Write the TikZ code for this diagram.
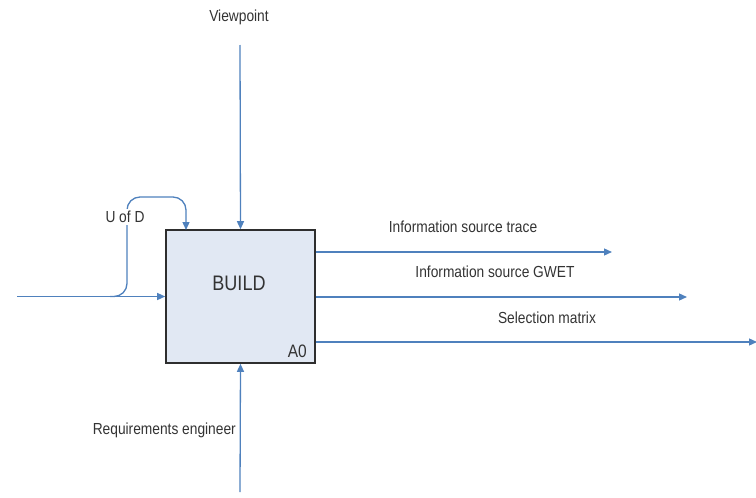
\documentclass[tikz,border=0pt]{standalone}
\usepackage{fontspec}
\setmainfont[FakeStretch=0.86]{Liberation Sans}
\usetikzlibrary{arrows.meta}
\definecolor{flowblue}{HTML}{4F81BD}
\definecolor{boxfill}{HTML}{E1E8F3}
\definecolor{inkgray}{HTML}{333333}
\tikzset{
  flow/.style={draw=flowblue, line width=1.3pt, -{Triangle[length=8pt,width=7pt]}},
  lbl/.style={text=inkgray, inner sep=1pt, font=\fontsize{16}{18}\selectfont},
  activity/.style={draw=inkgray!90!black, line width=1.6pt, fill=boxfill,
    minimum width=149pt, minimum height=133pt, inner sep=0pt}
}
\begin{document}
\begin{tikzpicture}[x=1pt,y=-1pt]
\useasboundingbox (0,0) rectangle (756,498);

% activity box
\node[activity] (build) at (240.5,296.5) {};
\node[text=inkgray, font=\fontsize{21}{23}\selectfont] (title) at (239,283) {BUILD};
\node[text=inkgray, font=\fontsize{18}{20}\selectfont, anchor=south east, inner sep=0pt] (num) at (307,358) {A0};

% control from above
\node[lbl] (vp) at (239,17) {Viewpoint};
\coordinate (vptop) at (240,45);
\draw[flow] (vptop) -- (build.north);

% mechanism from below
\node[lbl, anchor=east] (re) at (237,430) {Requirements engineer};
\coordinate (rebot) at (240,492);
\draw[flow] (rebot) -- (build.south);

% input from the left
\coordinate (inl) at (17,296.5);
\draw[flow] (inl) -- (build.west);

% branch U of D into the top of the box
\coordinate (brk) at (110,296.5);
\coordinate (ud) at (186,230);
\draw[flow, rounded corners=13pt] (brk) -- (127,296.5) -- (127,197) -- (186,197) -- (ud);
\node[lbl, fill=white, inner sep=2pt] (udl) at (125,217) {U of D};

% outputs
\coordinate (o1) at (612,252);
\coordinate (o2) at (687,297);
\coordinate (o3) at (757,342);
\draw[flow] (build.east |- o1) -- (o1);
\draw[flow] (build.east |- o2) -- (o2);
\draw[flow] (build.east |- o3) -- (o3);
\node[lbl] (t1) at (463,227) {Information source trace};
\node[lbl] (t2) at (495,272) {Information source GWET};
\node[lbl] (t3) at (547,318) {Selection matrix};
\end{tikzpicture}
\end{document}
